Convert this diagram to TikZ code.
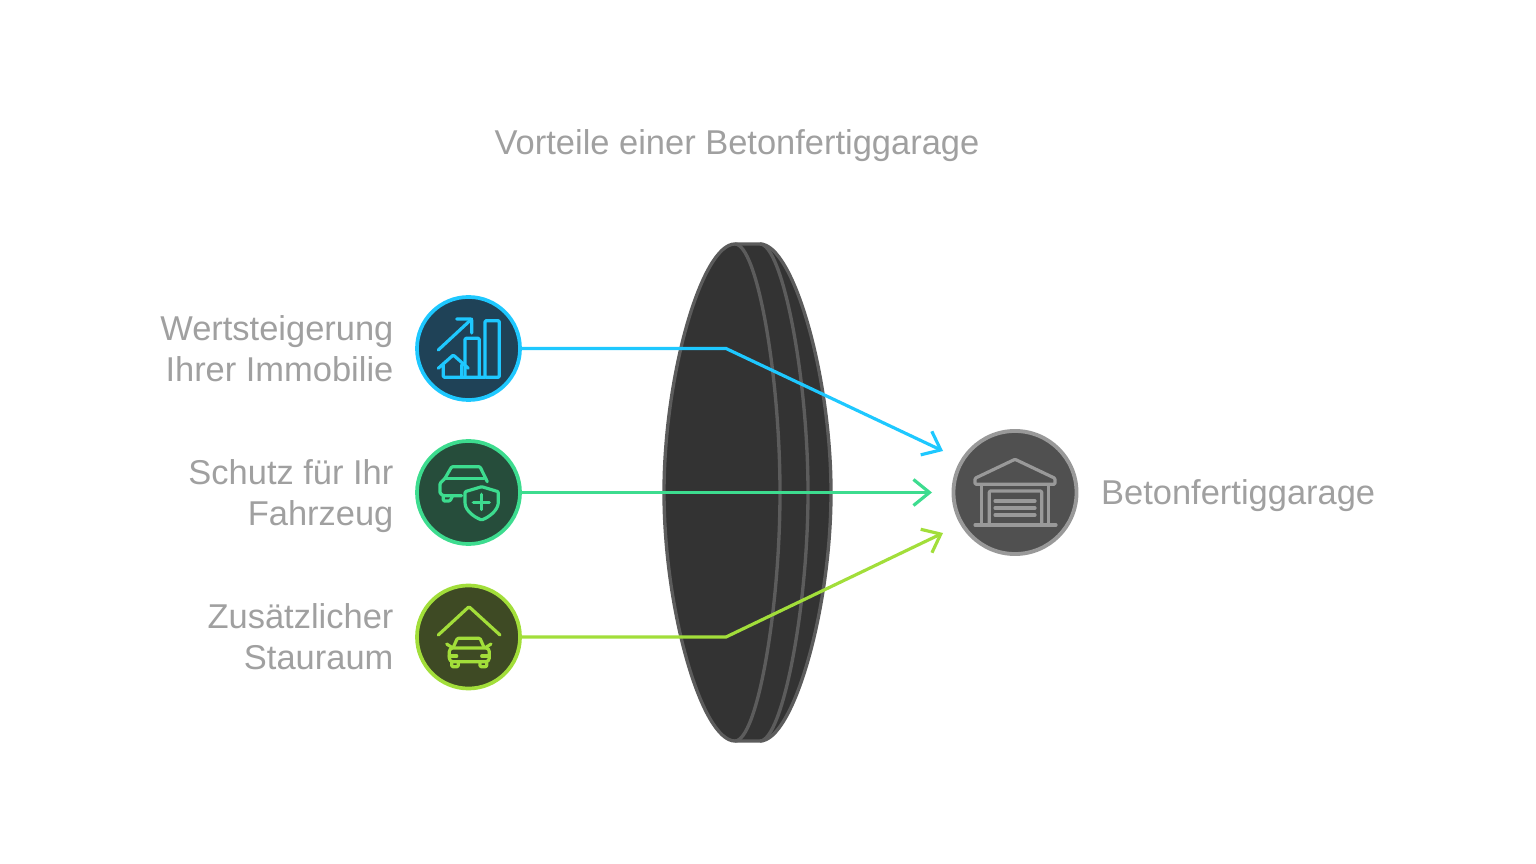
\documentclass[tikz,border=0pt]{standalone}
\usepackage{fontspec}
\setmainfont{Liberation Sans}
\usetikzlibrary{positioning,arrows.meta}
\definecolor{txtgrey}{RGB}{160,160,160}
\definecolor{lensfill}{RGB}{51,51,51}
\definecolor{lensline}{RGB}{92,92,92}
\definecolor{blueline}{RGB}{30,200,255}
\definecolor{bluefill}{RGB}{31,66,87}
\definecolor{greenline}{RGB}{61,220,143}
\definecolor{greenfill}{RGB}{38,77,59}
\definecolor{limeline}{RGB}{162,222,58}
\definecolor{limefill}{RGB}{62,74,36}
\definecolor{hubline}{RGB}{153,153,153}
\definecolor{hubfill}{RGB}{80,80,80}
\tikzset{
  badge/.style={circle,draw=#1line,fill=#1fill,line width=1.05pt,minimum size=1.03cm,inner sep=0pt},
  icon/.style={draw=#1,line width=0.9pt,line cap=round,line join=round,rounded corners=0.3pt},
  link/.style={draw=#1,line width=0.9pt,-{Straight Barb[length=1.6mm,width=2.6mm]}},
  lbl/.style={text=txtgrey,font=\fontsize{9.8}{11.66}\selectfont,inner sep=0pt,align=right},
}
\begin{document}
\begin{tikzpicture}[x=0.01cm,y=-0.01cm]
\useasboundingbox (0,0) rectangle (1536,864);
% Title
\node[lbl] (title) at (737,146) {Vorteile einer Betonfertiggarage};
% Lens
\draw[lensline,fill=lensfill,line width=0.95pt] (735,244)
  .. controls (702,244) and (664,375) .. (664,492.5)
  .. controls (664,610) and (702,741) .. (735,741) -- (760,741)
  .. controls (793,741) and (831,610) .. (831,492.5)
  .. controls (831,375) and (793,244) .. (760,244) -- cycle;
\draw[lensline,line width=0.95pt] (735,244) .. controls (757,244) and (780,375) .. (780,492.5)
  .. controls (780,610) and (757,741) .. (735,741); % front edge
\draw[lensline,line width=0.95pt] (760,244) .. controls (782,244) and (808,375) .. (808,492.5)
  .. controls (808,610) and (782,741) .. (760,741); % back edge
% Badges
\node[badge=blue] (wert) at (468.5,348.5) {};
\node[badge=green] (schutz) at (468.5,492.5) {};
\node[badge=lime] (stau) at (468.5,637) {};
\node[circle,draw=hubline,fill=hubfill,line width=1.1pt,minimum size=1.23cm,inner sep=0pt] (garage) at (1015,492.5) {};
% Labels
\node[lbl,left = 2.1mm of wert] (wertlbl) {Wertsteigerung\\Ihrer Immobilie};
\node[lbl,left = 2.1mm of schutz,yshift=-0.35mm] (schutzlbl) {Schutz für Ihr\\Fahrzeug};
\node[lbl,left = 2.1mm of stau] (staulbl) {Zusätzlicher\\Stauraum};
\node[lbl,right = 2.2mm of garage,yshift=-0.3mm] (garagelbl) {Betonfertiggarage};
% Connectors
\coordinate (wertbend) at (726,348.5);
\coordinate (wertend) at (943,451);
\coordinate (schutzend) at (932,492.5);
\coordinate (staubend) at (726,637);
\coordinate (stauend) at (943,533);
\draw[link=blueline] (wert.east) -- (wertbend) -- (wertend);
\draw[link=greenline] (schutz.east) -- (schutzend);
\draw[link=limeline] (stau.east) -- (staubend) -- (stauend);
% Icon rise
\draw[icon=blueline] (438.3,350) -- (471.7,319); % arrow shaft
\draw[icon=blueline] (456.7,319) -- (471.7,319) -- (471.7,333); % arrow head
\draw[icon=blueline] (485,377.3) rectangle (499.3,320.7); % tall bar
\draw[icon=blueline] (465,377.3) -- (465,338.3) -- (479.3,338.3) -- (479.3,377.3); % mid bar
\draw[icon=blueline] (438.3,368.3) -- (453.3,355) -- (468.3,368.3); % roof
\draw[icon=blueline] (443.3,365) -- (443.3,377.3) -- (485,377.3); % floor
\draw[icon=blueline] (461.7,365) -- (461.7,377.3); % wall
% Icon shield
\draw[icon=greenline] (445,478.3) -- (451.7,466.7) -- (480,466.7) -- (487.3,481.7);
\draw[icon=greenline] (445,478.3) -- (484,478.3); % window
\draw[icon=greenline] (445,478.3) -- (440,483.3) -- (440,493.3) -- (443.3,495.7) -- (461.7,495.7);
\draw[icon=greenline] (443.3,495.7) -- (443.3,501) -- (450,501) -- (452.7,495.7); % wheel
\draw[icon=greenline] (481.7,486.7) -- (465,491.7) -- (465,503)
  .. controls (466,511) and (474,517) .. (481.7,520)
  .. controls (489,517) and (497,511) .. (498.3,503) -- (498.3,491.7) -- cycle;
\draw[icon=greenline] (473.3,502.3) -- (489.3,502.3);
\draw[icon=greenline] (481.3,494.3) -- (481.3,509.5);
% Icon car
\draw[icon=limeline] (438.3,635) -- (469,606.7) -- (500,635); % roof
\draw[icon=limeline] (453.3,647.3) -- (457.3,638.3) -- (480,638.3) -- (484,647.3);
\draw[icon=limeline,rounded corners=1pt] (449.3,661.7) rectangle (489.3,648);
\draw[icon=limeline] (451.7,661.7) -- (451.7,666.7) -- (458.3,666.7) -- (458.3,661.7);
\draw[icon=limeline] (480,661.7) -- (480,666.7) -- (486.7,666.7) -- (486.7,661.7);
\draw[icon=limeline] (446.7,644) -- (451.7,647.3);
\draw[icon=limeline] (491,644) -- (486,647.3);
\draw[icon=limeline] (449.3,656) -- (456.7,656);
\draw[icon=limeline] (481.7,656) -- (489.3,656);
% Icon garage
\draw[icon=hubline] (975,478.3) -- (1015,459.3) -- (1055,478.3) -- (1055,484.3) -- (975,484.3) -- cycle;
\draw[icon=hubline] (975,525) -- (1056,525); % floor
\draw[icon=hubline] (981.7,485) -- (981.7,525);
\draw[icon=hubline] (1048.3,485) -- (1048.3,525);
\draw[icon=hubline] (989.3,525) -- (989.3,491) -- (1041.7,491) -- (1041.7,525);
\draw[icon=hubline] (995,501) -- (1035,501);
\draw[icon=hubline] (995,508) -- (1035,508);
\draw[icon=hubline] (995,515) -- (1035,515);
\end{tikzpicture}
\end{document}
